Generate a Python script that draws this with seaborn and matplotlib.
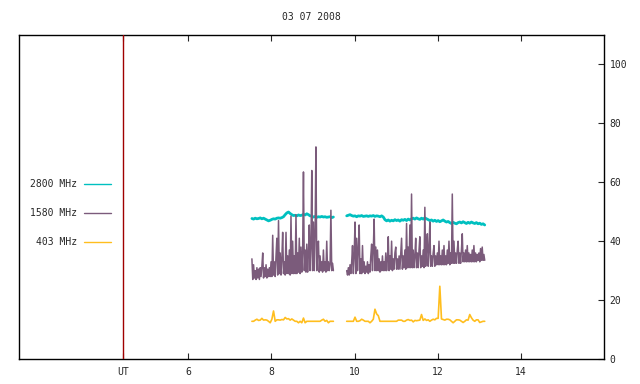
import numpy as np
import pandas as pd
import matplotlib
matplotlib.use("Agg")
import matplotlib.pyplot as plt
import seaborn as sns

# --- data (UT hours / flux) ---
title = "03 07 2008"
ut_hour = 4.44
x_ticks = [ut_hour, 6, 8, 10, 12, 14]
x_ticklabels = ["UT", "6", "8", "10", "12", "14"]
y_ticks = [0, 20, 40, 60, 80, 100]

seg_starts = [7.53, 9.81]

# 2800 MHz, step 0.04 h
f2800_s1 = [47.7, 47.5, 47.8, 47.6, 47.7, 47.9, 47.6, 47.8, 47.5, 47.2,
            46.9, 47.1, 47.4, 47.6, 47.5, 47.8, 47.9, 47.8, 48.0, 48.3,
            49.0, 49.6, 49.9, 49.4, 49.0, 48.7, 48.8, 48.6, 48.9, 48.7,
            48.8, 49.1, 48.9, 49.3, 49.0, 48.6, 48.5, 48.2, 48.4, 48.1,
            48.3, 48.2, 48.4, 48.2, 48.3, 48.1, 48.2, 48.3, 48.0, 48.2]
f2800_s2 = [48.6, 48.8, 49.0, 48.7, 48.5, 48.6, 48.3, 48.6, 48.5, 48.7,
            48.4, 48.5, 48.6, 48.4, 48.6, 48.5, 48.7, 48.4, 48.6, 48.5,
            48.3, 48.6, 48.2, 47.3, 46.9, 47.2, 46.8, 47.1, 46.9, 47.3,
            47.0, 47.2, 46.8, 47.3, 47.1, 47.4, 47.0, 47.5, 47.2, 47.6,
            47.8, 47.5, 47.9, 47.6, 47.4, 47.8, 47.5, 47.9, 47.6, 47.3,
            47.0, 47.2, 46.8, 47.1, 46.7, 47.0, 46.6, 46.9, 47.2, 46.8,
            46.5, 46.7, 46.3, 46.0, 46.4, 46.1, 45.9, 46.3, 46.5, 46.2,
            46.6, 46.3, 46.0, 46.4, 46.1, 46.5, 46.2, 46.0, 46.3, 45.9,
            46.1, 45.7, 45.9, 45.5]

# 1580 MHz, step 0.02 h
f1580_s1 = [34, 27, 32, 27.5, 30, 27, 31, 27.5, 30.5, 27,
            31, 28, 31.5, 36, 27.5, 31, 28, 32, 27.5, 30.5,
            28, 31, 28, 33, 28, 42, 28.5, 33, 28, 35,
            41, 28.5, 47, 29, 36, 28.5, 34, 43, 29, 33,
            28.5, 43, 29, 35, 29, 37, 28.5, 48.5, 29, 40,
            29, 35, 29, 49, 29, 36, 29.5, 41, 29, 38,
            29.5, 36, 63.5, 30, 37, 29.5, 39, 29.5, 36, 45.5,
            30, 38, 64, 30, 46.5, 30, 43, 72, 30, 37,
            40, 29.5, 35, 30, 33, 29.5, 37, 30, 33, 29.5,
            40, 30, 33, 30, 32, 50.5, 30, 32.5, 30]
f1580_s2 = [30, 28.5, 31, 28.5, 32, 29, 33, 38.5, 29, 35,
            46.5, 29, 41, 30, 37, 45.5, 29, 34, 29, 38.5,
            29.5, 33, 29, 31.5, 29.5, 33, 29, 32, 29.5, 35,
            39, 30, 37, 47.5, 30, 38, 30, 37, 30, 34,
            29.5, 33, 30, 35, 30, 33, 30, 36, 30, 34,
            41.5, 30, 35, 30.5, 40, 30, 34, 30.5, 36, 38,
            30.5, 34, 30.5, 35, 30.5, 36, 41, 30.5, 35, 31,
            37, 30.5, 46, 31, 38, 31, 45.5, 31, 56, 31,
            37, 31, 35, 41, 31, 36, 31, 37, 41.5, 31,
            35, 31.5, 37, 31, 51.5, 31.5, 38, 42.5, 31.5, 37,
            46.5, 31.5, 35, 31.5, 36, 38.5, 31.5, 35, 32, 36,
            32, 40, 32, 35, 32, 37, 32, 38.5, 32, 35,
            32, 37, 32.5, 40, 32, 36, 32.5, 56, 32.5, 40,
            32.5, 36, 32.5, 37, 40, 32.5, 36, 32.5, 37, 42.5,
            33, 36, 33, 37, 33, 38.5, 33, 36, 33, 35.5,
            33, 37, 33, 38.5, 33, 36, 33, 35.5, 33.5, 36,
            33, 37.5, 33.5, 38, 33.5, 35.5, 33.5]

# 403 MHz, step 0.04 h
f403_s1 = [12.8, 12.8, 13.2, 13.5, 13.1, 13.2, 13.8, 13.2, 13.3, 13.2,
           12.8, 12.3, 13.5, 16.3, 12.8, 13.3, 13.3, 13.2, 13.4, 13.3,
           14.1, 13.6, 13.7, 13.2, 13.6, 13.2, 12.8, 12.8, 12.3, 12.8,
           12.3, 13.9, 12.3, 12.8, 12.8, 12.8, 12.8, 12.8, 12.8, 12.8,
           12.8, 12.8, 13.2, 13.5, 12.8, 13.1, 12.3, 12.8, 12.8, 12.8]
f403_s2 = [12.8, 12.8, 12.8, 12.8, 12.8, 14.2, 12.8, 12.8, 13.0, 13.5,
           13.2, 12.8, 12.8, 12.8, 12.3, 12.8, 13.5, 16.9, 15.3, 14.7,
           12.8, 12.8, 12.8, 12.8, 12.8, 12.8, 12.8, 12.8, 12.8, 12.8,
           12.8, 13.2, 13.2, 13.2, 12.8, 12.8, 13.2, 13.4, 13.1, 13.2,
           12.6, 13.1, 13.0, 13.1, 13.2, 15.1, 13.1, 13.6, 13.1, 13.3,
           12.8, 13.2, 13.5, 13.3, 13.8, 13.8, 24.7, 13.6, 13.4, 13.2,
           13.5, 13.5, 13.3, 12.8, 12.3, 12.8, 13.3, 13.3, 13.2, 12.8,
           12.4, 12.8, 13.3, 13.2, 15.1, 14.0, 13.2, 12.8, 13.3, 13.3,
           12.4, 12.6, 12.8, 12.8]

series = [
    ("2800 MHz", [f2800_s1, f2800_s2], 0.04, "#00c0c0", 2.0),
    ("1580 MHz", [f1580_s1, f1580_s2], 0.02, "#7b5b7b", 1.1),
    ("403 MHz", [f403_s1, f403_s2], 0.04, "#ffbe1e", 1.2),
]

mono = ["DejaVu Sans Mono"]
sns.set_style("white")
plt.rcParams["font.family"] = mono
plt.rcParams["font.size"] = 7

fig = plt.figure(figsize=(6.4, 3.84), dpi=100)
ax = fig.add_axes([0.0292, 0.0651, 0.9146, 0.8438])

for name, segs, step, color, lw in series:
    for k, (start, vals) in enumerate(zip(seg_starts, segs)):
        df = pd.DataFrame({"hour": start + step * np.arange(len(vals)), "flux": vals})
        sns.lineplot(data=df, x="hour", y="flux", ax=ax, color=color, linewidth=lw,
                     label=name if k == 0 else None, legend=False, sort=False,
                     estimator=None)

ax.axvline(ut_hour, color="#a00000", linewidth=1, zorder=3)

ax.set_xlim(1.92, 16.0)
ax.set_ylim(0, 110)
ax.set_xticks(x_ticks)
ax.set_xticklabels(x_ticklabels)
ax.set_yticks(y_ticks)
ax.set_xlabel("")
ax.set_ylabel("")
ax.yaxis.tick_right()
ax.tick_params(axis="x", direction="in", length=4.5, width=0.8, top=True, bottom=True,
               pad=6, labelsize=7)
ax.tick_params(axis="y", direction="in", length=4.5, width=0.8, left=False, right=True,
               pad=4, labelsize=7)
for sp in ax.spines.values():
    sp.set_color("black")
    sp.set_linewidth(1)
ax.set_title(title, fontsize=7, pad=11)

handles, labels = ax.get_legend_handles_labels()
leg = ax.legend(handles, labels, markerfirst=False, frameon=False, loc="center right",
                bbox_to_anchor=(0.1577, 0.4506), borderpad=0, borderaxespad=0,
                handlelength=2.8, handletextpad=0.7, labelspacing=1.95, fontsize=7)
for h in leg.get_lines():
    h.set_linewidth(1.0)

fig.savefig("out.png", dpi=100)
